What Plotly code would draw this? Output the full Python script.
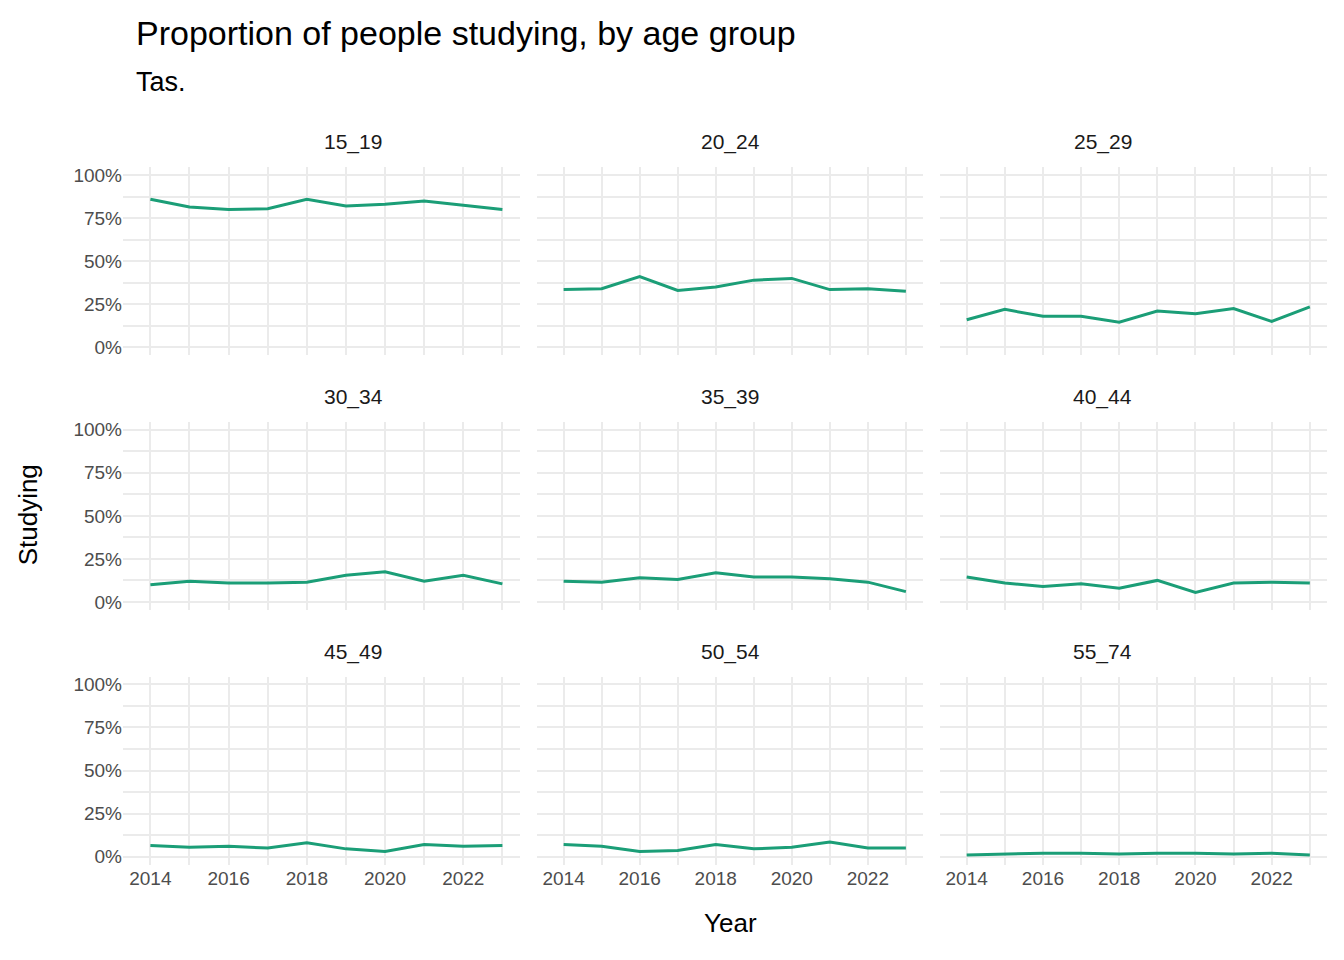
import plotly.graph_objects as go
from plotly.subplots import make_subplots

years = list(range(2014, 2024))
groups = ["15_19","20_24","25_29","30_34","35_39","40_44","45_49","50_54","55_74"]
v15_19 = [86,81.5,80,80.5,86,82,83,85,82.5,80]
v20_24 = [33.5,34,41,33,35,39,40,33.5,34,32.5]
v25_29 = [16,22,18,18,14.5,21,19.5,22.5,15,23.5]
v30_34 = [10,12,11,11,11.5,15.5,17.5,12,15.5,10.5]
v35_39 = [12,11.5,14,13,17,14.5,14.5,13.5,11.5,6]
v40_44 = [14.5,11,9,10.5,8,12.5,5.5,11,11.5,11]
v45_49 = [6.5,5.5,6,5,8,4.5,3,7,6,6.5]
v50_54 = [7,6,3,3.5,7,4.5,5.5,8.5,5,5]
v55_74 = [1,1.5,2,2,1.5,2,2,1.5,2,1]
series = [v15_19,v20_24,v25_29,v30_34,v35_39,v40_44,v45_49,v50_54,v55_74]

W, H = 1344, 960
OFF = 8
xd = [(123-OFF,520-OFF),(537-OFF,923-OFF),(940-OFF,1327-OFF)]
yd = [(166-OFF,355-OFF),(422-OFF,611-OFF),(678-OFF,867-OFF)]
FONT = "Liberation Sans, Arial, sans-serif"

def px(x): return (x-OFF)/W
def py(y): return 1-(y-OFF)/H

fig = make_subplots(rows=3, cols=3)
tickfont = dict(family=FONT, size=19, color="#4d4d4d")
for i, (g, vals) in enumerate(zip(groups, series)):
    r, c = divmod(i, 3)
    fig.add_trace(go.Scatter(x=years, y=vals, mode="lines",
                             line=dict(color="#1B9E77", width=3), showlegend=False),
                  row=r+1, col=c+1)
    xa = "xaxis" if i == 0 else f"xaxis{i+1}"
    ya = "yaxis" if i == 0 else f"yaxis{i+1}"
    fig.layout[xa].update(domain=[xd[c][0]/W, xd[c][1]/W], range=[2013.3, 2023.45],
        tickvals=[2014,2016,2018,2020,2022], showticklabels=(r == 2),
        showgrid=True, gridcolor="#ebebeb", gridwidth=1.5, zeroline=False,
        minor=dict(tickvals=[2015,2017,2019,2021,2023], showgrid=True, gridcolor="#ebebeb", gridwidth=1.5),
        ticks="", tickfont=tickfont, showline=False)
    fig.layout[ya].update(domain=[1-yd[r][1]/H, 1-yd[r][0]/H], range=[-4.6, 104.6],
        tickvals=[0,25,50,75,100], ticktext=["0%","25%","50%","75%","100%"],
        showticklabels=(c == 0), showgrid=True, gridcolor="#ebebeb", gridwidth=1.5,
        zeroline=False,
        minor=dict(tickvals=[12.5,37.5,62.5,87.5], showgrid=True, gridcolor="#ebebeb", gridwidth=1.5),
        ticks="", tickfont=tickfont, showline=False)
    fig.add_annotation(text=g, x=(xd[c][0]+xd[c][1])/2/W, y=1-(yd[r][0]-25)/H,
                       xref="paper", yref="paper", showarrow=False, yanchor="middle",
                       font=dict(family=FONT, size=21, color="#1a1a1a"))

fig.add_annotation(text="Year", x=px(730), y=py(926), xref="paper", yref="paper", showarrow=False,
                   yanchor="middle", font=dict(family=FONT, size=26, color="black"))
fig.add_annotation(text="Studying", x=px(28), y=py(516), xref="paper", yref="paper", showarrow=False,
                   textangle=-90, xanchor="center", yanchor="middle",
                   font=dict(family=FONT, size=26, color="black"))
fig.add_annotation(text="Proportion of people studying, by age group", x=px(134), y=py(31),
                   xref="paper", yref="paper", showarrow=False, xanchor="left", yanchor="middle",
                   font=dict(family=FONT, size=34, color="black"))
fig.add_annotation(text="Tas.", x=px(134), y=py(80), xref="paper", yref="paper", showarrow=False,
                   xanchor="left", yanchor="middle", font=dict(family=FONT, size=27, color="black"))

fig.update_layout(width=W, height=H, margin=dict(l=0, r=0, t=0, b=0),
                  plot_bgcolor="white", paper_bgcolor="white")
fig.write_html("out.html")
